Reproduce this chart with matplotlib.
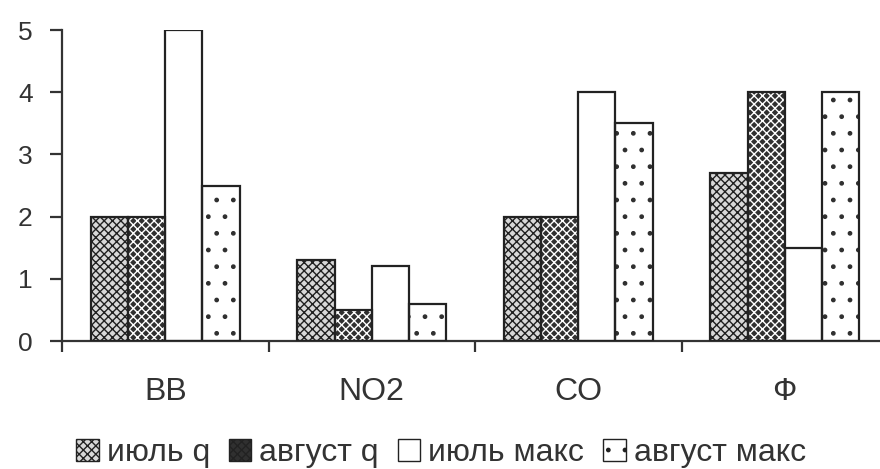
import numpy as np
import matplotlib.pyplot as plt
from matplotlib.patches import Patch

plt.rcParams['font.family'] = ['Liberation Sans', 'DejaVu Sans']
plt.rcParams['hatch.linewidth'] = 1.0

# data
categories = ['ВВ', 'NO2', 'CO', 'Ф']
series = ['июль q', 'август q', 'июль макс', 'август макс']
july_q = [2, 1.3, 2, 2.7]
aug_q = [2, 0.5, 2, 4]
july_max = [5, 1.2, 4, 1.5]
aug_max = [2.5, 0.6, 3.5, 4]
values = [july_q, aug_q, july_max, aug_max]

# look of each series: face, hatch, hatch colour
styles = [
    ('#d8d8d8', 'xxxx', '#202020'),
    ('#303030', 'xxxx', '#ffffff'),
    ('white', '', 'black'),
    ('white', '.', '#303030'),
]

fig = plt.figure(figsize=(8.8, 4.69), dpi=100)
ax = fig.add_axes([62/880, 1-341/469, 826/880, 311/469])

x = np.arange(len(categories))
w = 0.18
offs = (np.arange(4) - 1.5) * w
for i in range(4):
    face, hatch, hcol = styles[i]
    ax.bar(x + offs[i], values[i], w, color=face, hatch=hatch,
           edgecolor=hcol, linewidth=0, zorder=2)
    ax.bar(x + offs[i], values[i], w, fill=False, edgecolor='#222222',
           linewidth=1.6, zorder=3)

ax.set_xlim(-0.5, 3.5)
ax.set_ylim(0, 5)
ax.set_yticks(range(6))
ax.tick_params(axis='y', labelsize=19, length=9, width=1.6, pad=12,
               colors='#333333')
ax.set_xticks([-0.5, 0.5, 1.5, 2.5, 3.5])
ax.set_xticklabels([])
ax.tick_params(axis='x', which='major', length=8, width=1.6, colors='#333333')
ax.set_xticks(x, minor=True)
ax.set_xticklabels(categories, minor=True)
ax.tick_params(axis='x', which='minor', length=0, pad=26, labelsize=23,
               labelcolor='#333333')

for s in ['top', 'right']:
    ax.spines[s].set_visible(False)
for s in ['left', 'bottom']:
    ax.spines[s].set_linewidth(1.6)
    ax.spines[s].set_color('#333333')

handles = [Patch(facecolor=st[0], hatch=st[1], edgecolor='#222222', linewidth=1.0)
           for st in styles]
fig.legend(handles, series, loc='center', bbox_to_anchor=(441/880, 1-453/469),
           ncol=4, frameon=False, handlelength=0.7,
           handleheight=0.7, handletextpad=0.25, columnspacing=0.6,
           labelcolor='#333333',
           prop={'family': ['Liberation Sans', 'DejaVu Sans'], 'size': 23})

fig.savefig('out.png', dpi=100)
